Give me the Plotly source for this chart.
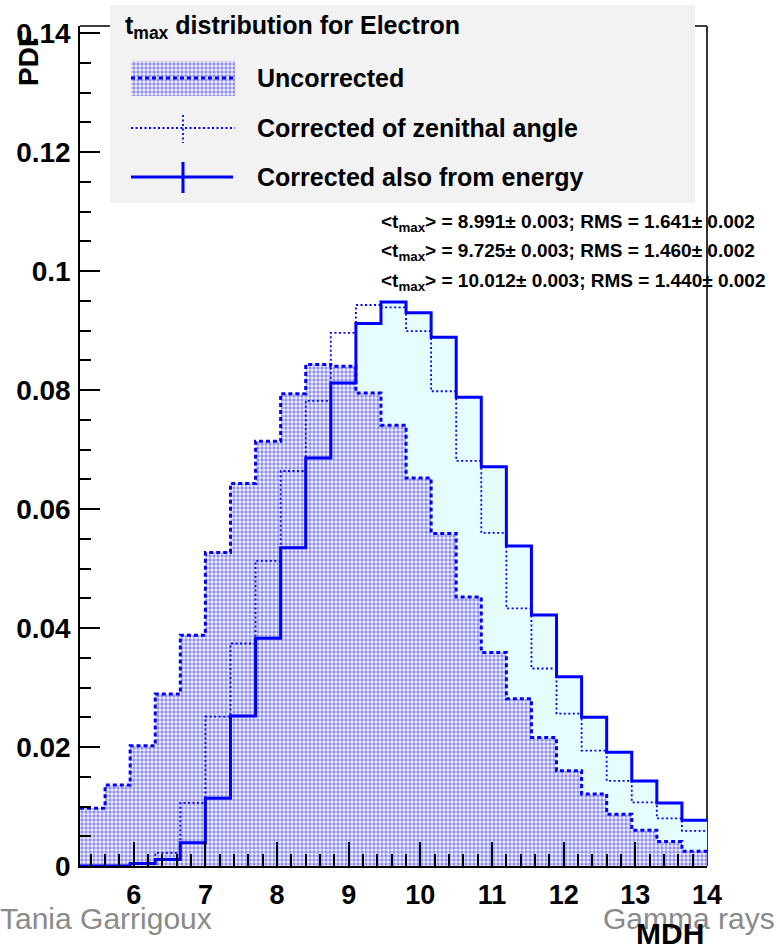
import plotly.graph_objects as go

# Histogram binning of t_max (MDH)
x_lo, x_hi, n_bins = 5.25, 14.0, 25

# Normalised bin contents (PDF per bin)
uncorrected = [0.0097, 0.0136, 0.0202, 0.0289, 0.0388, 0.0527, 0.0643, 0.0714,
               0.0794, 0.0843, 0.0840, 0.0795, 0.0741, 0.0652, 0.0559, 0.0452,
               0.0359, 0.0281, 0.0216, 0.0160, 0.0121, 0.0087, 0.0060, 0.0041,
               0.0025]
zenith_corrected = [0.0000, 0.0000, 0.0003, 0.0022, 0.0106, 0.0251, 0.0374, 0.0513,
                    0.0664, 0.0782, 0.0896, 0.0943, 0.0939, 0.0899, 0.0798, 0.0681,
                    0.0560, 0.0433, 0.0332, 0.0256, 0.0194, 0.0143, 0.0107, 0.0080,
                    0.0059]
energy_corrected = [0.0000, 0.0000, 0.0004, 0.0011, 0.0039, 0.0114, 0.0252, 0.0383,
                    0.0535, 0.0686, 0.0812, 0.0912, 0.0948, 0.0930, 0.0889, 0.0788,
                    0.0671, 0.0538, 0.0422, 0.0318, 0.0250, 0.0191, 0.0143, 0.0106,
                    0.0077]

legend_title = "t<sub>max</sub> distribution for Electron"
legend_labels = ["Uncorrected", "Corrected of zenithal angle", "Corrected also from energy"]
stats_lines = [
    "&lt;t<sub>max</sub>&gt; = 8.991\u00b1 0.003; RMS = 1.641\u00b1 0.002",
    "&lt;t<sub>max</sub>&gt; = 9.725\u00b1 0.003; RMS = 1.460\u00b1 0.002",
    "&lt;t<sub>max</sub>&gt; = 10.012\u00b1 0.003; RMS = 1.440\u00b1 0.002",
]
x_title = "MDH"
y_title = "PDF"
footer_left = "Tania Garrigoux"
footer_right = "Gamma rays"

y_max = 0.1412

BLUE = "#0000ff"
CYAN = "#e6fdfd"
FONT = "Liberation Sans"

bin_w = (x_hi - x_lo) / n_bins
edges = [x_lo + i * bin_w for i in range(n_bins + 1)]


def step_xy(vals):
    return edges, list(vals) + [vals[-1]]


# frame geometry in pixels
W, H = 780, 947
L, R, T, B = 80, 707, 26, 866


def fx(px):
    return (px - L) / (R - L)


def fy(py):
    return (B - py) / (B - T)


DASH = dict(color=BLUE, width=3, dash="4px,3px")
DOT = dict(color=BLUE, width=1.8, dash="2px,2.5px")
SOLID = dict(color=BLUE, width=3)

fig = go.Figure()

# cyan area under the energy-corrected histogram
sx, sy = step_xy(energy_corrected)
fig.add_trace(go.Scatter(x=sx, y=sy, mode="lines", line=dict(width=0, shape="hv"),
                         fill="tozeroy", fillcolor=CYAN, hoverinfo="skip",
                         showlegend=False))

# hatched area of the uncorrected histogram
ux, uy = step_xy(uncorrected)
pattern = dict(shape=".", fgcolor="#2828e0", bgcolor="#f6f6ff", size=4, solidity=0.55)
fig.add_trace(go.Scatter(x=ux, y=uy, mode="lines", line=dict(width=0, shape="hv"),
                         fill="tozeroy", fillpattern=pattern, fillcolor="rgba(0,0,0,0)",
                         hoverinfo="skip", showlegend=False))

# outlines
fig.add_trace(go.Scatter(x=ux, y=uy, mode="lines", line=dict(shape="hv", **DASH),
                         name=legend_labels[0], showlegend=False))
zx, zy = step_xy(zenith_corrected)
fig.add_trace(go.Scatter(x=zx, y=zy, mode="lines", line=dict(shape="hv", **DOT),
                         name=legend_labels[1], showlegend=False))
fig.add_trace(go.Scatter(x=sx, y=sy, mode="lines", line=dict(shape="hv", **SOLID),
                         name=legend_labels[2], showlegend=False))

# legend swatch for the hatched histogram (pixel-coordinate overlay axes)
fig.add_trace(go.Scatter(x=[131, 235, 235, 131, 131], y=[61, 61, 96, 96, 61],
                         xaxis="x2", yaxis="y2", mode="lines", line=dict(width=0),
                         fill="toself", fillpattern=pattern, fillcolor="rgba(0,0,0,0)",
                         hoverinfo="skip", showlegend=False))

shapes = [
    # frame top and right (under the legend box)
    dict(type="line", xref="paper", yref="paper", x0=0, x1=1, y0=1, y1=1,
         line=dict(color="black", width=1.5), layer="below"),
    dict(type="line", xref="paper", yref="paper", x0=1, x1=1, y0=0, y1=1,
         line=dict(color="#333333", width=2), layer="below"),
    # legend box
    dict(type="rect", xref="paper", yref="paper", x0=fx(110), x1=fx(695),
         y0=fy(203), y1=fy(5), fillcolor="#f2f2f2", line=dict(width=0), layer="below"),
    # legend glyphs
    dict(type="line", xref="paper", yref="paper", x0=fx(131), x1=fx(235),
         y0=fy(78), y1=fy(78), line=DASH, layer="above"),
    dict(type="line", xref="paper", yref="paper", x0=fx(131), x1=fx(235),
         y0=fy(128), y1=fy(128), line=DOT, layer="above"),
    dict(type="line", xref="paper", yref="paper", x0=fx(183), x1=fx(183),
         y0=fy(115), y1=fy(143), line=DOT, layer="above"),
    dict(type="line", xref="paper", yref="paper", x0=fx(131), x1=fx(233),
         y0=fy(177), y1=fy(177), line=SOLID, layer="above"),
    dict(type="line", xref="paper", yref="paper", x0=fx(183), x1=fx(183),
         y0=fy(162), y1=fy(193), line=SOLID, layer="above"),
]

bold = dict(family=FONT, color="black", weight="bold")
annotations = [
    dict(text=legend_title, x=fx(123), y=fy(27), xanchor="left", yanchor="middle",
         font=dict(size=25, **bold)),
]
for lbl, ypx in zip(legend_labels, [78, 128, 177]):
    annotations.append(dict(text=lbl, x=fx(255), y=fy(ypx), xanchor="left",
                            yanchor="middle", font=dict(size=25, **bold)))
for line, ypx in zip(stats_lines, [223, 252, 282]):
    annotations.append(dict(text=line, x=fx(379), y=fy(ypx), xanchor="left",
                            yanchor="middle", font=dict(size=19, **bold)))
annotations += [
    dict(text=y_title, x=fx(28), y=fy(28), xanchor="center", yanchor="top",
         textangle=-90, font=dict(size=28, **bold)),
    dict(text=footer_left, x=fx(-2), y=fy(918), xanchor="left", yanchor="middle",
         font=dict(family=FONT, size=30, color="#8a8a8a")),
    dict(text=footer_right, x=fx(601), y=fy(918), xanchor="left", yanchor="middle",
         font=dict(family=FONT, size=30, color="#8a8a8a")),
    dict(text=x_title, x=fx(706), y=fy(933), xanchor="right", yanchor="middle",
         font=dict(size=30, **bold)),
]
for a in annotations:
    a.update(xref="paper", yref="paper", showarrow=False)

fig.update_layout(
    width=W, height=H, autosize=False,
    margin=dict(l=L, r=W - R, t=T, b=H - B, pad=0),
    paper_bgcolor="white", plot_bgcolor="rgba(0,0,0,0)",
    showlegend=False,
    shapes=shapes, annotations=annotations,
    xaxis=dict(range=[x_lo, x_hi], showgrid=False, zeroline=False,
               showline=True, linecolor="black", linewidth=1.5,
               ticks="inside", ticklen=24, tickwidth=1.5, tickcolor="black",
               tick0=6, dtick=1, ticklabelstandoff=4,
               tickfont=dict(size=27, **bold),
               minor=dict(ticks="inside", ticklen=12, tickwidth=1.5,
                          tickcolor="black", dtick=0.2, showgrid=False)),
    yaxis=dict(range=[0, y_max], showgrid=False, zeroline=False,
               showline=True, linecolor="black", linewidth=1.5,
               ticks="inside", ticklen=20, tickwidth=1.5, tickcolor="black",
               tick0=0, dtick=0.02, ticklabelstandoff=2,
               tickfont=dict(size=28, **bold),
               minor=dict(ticks="inside", ticklen=11, tickwidth=1.5,
                          tickcolor="black", dtick=0.005, showgrid=False)),
    xaxis2=dict(overlaying="x", range=[L, R], visible=False),
    yaxis2=dict(overlaying="y", range=[B, T], visible=False),
)

fig.write_html("out.html")
